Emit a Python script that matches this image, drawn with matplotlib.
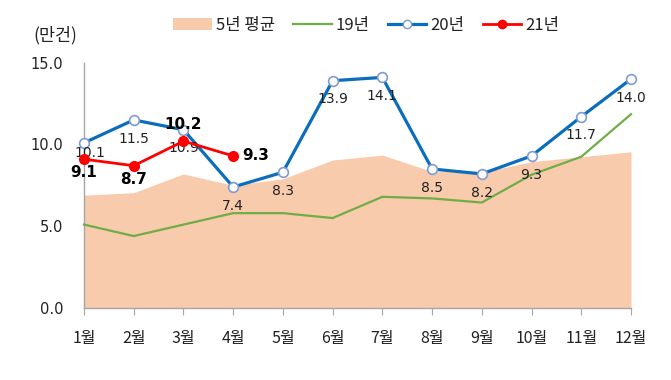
import matplotlib
matplotlib.use("Agg")
import matplotlib.pyplot as plt
from matplotlib.patches import Patch
from matplotlib.lines import Line2D

plt.rcParams['font.family'] = ['Noto Sans CJK KR', 'DejaVu Sans']

months = ['1월', '2월', '3월', '4월', '5월', '6월', '7월', '8월', '9월', '10월', '11월', '12월']
avg5 = [6.9, 7.05, 8.2, 7.5, 7.9, 9.05, 9.35, 8.35, 8.3, 8.95, 9.25, 9.55]
y19 = [5.1, 4.4, 5.1, 5.8, 5.8, 5.5, 6.8, 6.7, 6.45, 8.15, 9.25, 11.85]
y20 = [10.1, 11.5, 10.9, 7.4, 8.3, 13.9, 14.1, 8.5, 8.2, 9.3, 11.7, 14.0]
y21 = [9.1, 8.7, 10.2, 9.3]
yticks = [0.0, 5.0, 10.0, 15.0]

c_area = '#F8CBAD'
c19 = '#70AD47'
c20 = '#0A6EBD'
c20_edge = '#7F9BD3'
c21 = '#FF0000'
txt = '#222222'

fig = plt.figure(figsize=(6.71, 3.80), dpi=100)
ax = fig.add_axes([84/671, 72/380, 547/671, 245.3/380])

x = list(range(len(months)))
ax.fill_between(x, 0, avg5, color=c_area, linewidth=0, zorder=1)
ax.plot(x, y19, color=c19, lw=1.6, zorder=3, clip_on=False)
ax.plot(x, y20, color=c20, lw=2.3, marker='o', ms=7, mfc='white',
        mec=c20_edge, mew=1.2, zorder=4, clip_on=False)
x21 = x[:len(y21)]
ax.plot(x21, y21, color=c21, lw=2.0, marker='o', ms=7, mfc=c21,
        mec=c21, zorder=5, clip_on=False)

for i, (xi, v) in enumerate(zip(x, y20)):
    off = (4, -7) if i == 0 else (0, -13.5)
    ax.annotate(f'{v:.1f}', (xi, v), xytext=off, textcoords='offset points',
                ha='center', va='center', fontsize=10, color=txt, zorder=4.5,
                family=['DejaVu Sans'])

offs21 = [(0, -9.5), (0, -10), (0, 12), (16, 0)]
for xi, v, o in zip(x21, y21, offs21):
    ax.annotate(f'{v:.1f}', (xi, v), xytext=o, textcoords='offset points',
                ha='center', va='center', fontsize=11, fontweight='bold',
                color='black', zorder=7, family=['DejaVu Sans'])

ax.set_xlim(0, len(months) - 1)
ax.set_ylim(0, 15)
ax.set_yticks(yticks)
ax.set_yticklabels([f'{t:.1f}' for t in yticks], fontsize=10.5, color=txt,
                   family=['DejaVu Sans'])
ax.tick_params(axis='y', length=0, pad=15)
ax.set_xticks(x)
ax.set_xticklabels(months, fontsize=11.5, color=txt, fontweight='medium')
ax.tick_params(axis='x', length=5, color='#A6A6A6', pad=11, direction='out')
for s in ['top', 'right']:
    ax.spines[s].set_visible(False)
for s in ['left', 'bottom']:
    ax.spines[s].set_color('#A6A6A6')
    ax.spines[s].set_linewidth(1.0)

handles = [
    Patch(facecolor=c_area, edgecolor='none'),
    Line2D([], [], color=c19, lw=1.6),
    Line2D([], [], color=c20, lw=2.3, marker='o', ms=6, mfc='white', mec=c20_edge),
    Line2D([], [], color=c21, lw=2.0, marker='o', ms=6, mfc=c21, mec=c21),
]
labels = ['5년 평균', '19년', '20년', '21년']
fig.legend(handles, labels, loc='center', bbox_to_anchor=(0.546, 0.934), ncol=4,
           frameon=False, fontsize=12, handlelength=2.3, handletextpad=0.25,
           columnspacing=1.1, labelcolor=txt)

fig.text(55/671, 1 - 35/380, '(만건)', ha='center', va='center', fontsize=12.5, color=txt)

fig.savefig('out.png', dpi=100)
